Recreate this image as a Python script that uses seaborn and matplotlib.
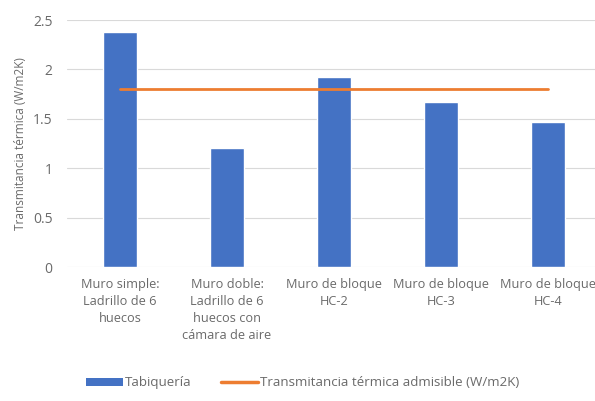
import numpy as np
import pandas as pd
import matplotlib
matplotlib.use("Agg")
import matplotlib.pyplot as plt
import seaborn as sns
from matplotlib.lines import Line2D
from matplotlib.patches import Patch

# Wall types and their thermal transmittance values.
categories = [
    "Muro simple:\nLadrillo de 6\nhuecos",
    "Muro doble:\nLadrillo de 6\nhuecos con\ncámara de aire",
    "Muro de bloque\nHC-2",
    "Muro de bloque\nHC-3",
    "Muro de bloque\nHC-4",
]
tabiqueria = [2.38, 1.21, 1.92, 1.67, 1.47]
admisible = [1.8, 1.8, 1.8, 1.8, 1.8]
yticks = [0, 0.5, 1, 1.5, 2, 2.5]
ytick_labels = ["0", "0.5", "1", "1.5", "2", "2.5"]

blue = "#4472C4"
orange = "#ED7D31"
gray = "#6A6A6A"

sns.set_style("white")
plt.rcParams["font.family"] = ["Open Sans", "DejaVu Sans"]

df = pd.DataFrame({"muro": categories, "valor": tabiqueria})

fig = plt.figure(figsize=(5.95, 4.01), dpi=100)
ax = fig.add_axes([66.5 / 595, 0.334, 535 / 595, 0.616])

sns.barplot(data=df, x="muro", y="valor", color=blue, saturation=1,
            width=0.31, ax=ax, zorder=2)
sns.lineplot(x=np.arange(len(admisible)), y=admisible, color=orange,
             linewidth=2, ax=ax, zorder=3)

# Axis ranges and gridlines.
ax.set_xlim(-0.5, len(categories) - 0.5)
ax.set_ylim(0, 2.5)
ax.set_yticks(yticks)
ax.set_yticklabels(ytick_labels)
ax.grid(axis="y", color="#D9D9D9", linewidth=0.8, zorder=0)
ax.set_axisbelow(True)
for s in ax.spines.values():
    s.set_visible(False)
ax.tick_params(axis="both", length=0, colors=gray)
ax.tick_params(axis="y", pad=10, labelsize=10)
ax.tick_params(axis="x", pad=8, labelsize=9.2)
for t in ax.get_xticklabels():
    t.set_linespacing(1.4)
ax.set_xlabel("")
ax.set_ylabel("Transmitancia térmica (W/m2K)", color=gray, fontsize=8.5, labelpad=4)

# Legend at the bottom.
handles = [Patch(facecolor=blue, edgecolor="none"),
           Line2D([0], [0], color=orange, linewidth=2.5)]
labels = ["Tabiquería", "Transmitancia térmica admisible (W/m2K)"]
leg = fig.legend(handles, labels, loc="center left", bbox_to_anchor=(0.125, 0.045),
                 ncol=2, frameon=False, fontsize=9.6, handlelength=2.75,
                 handleheight=0.6, columnspacing=2.2, handletextpad=0.15)
for t in leg.get_texts():
    t.set_color(gray)

fig.savefig("out.png", dpi=100)
